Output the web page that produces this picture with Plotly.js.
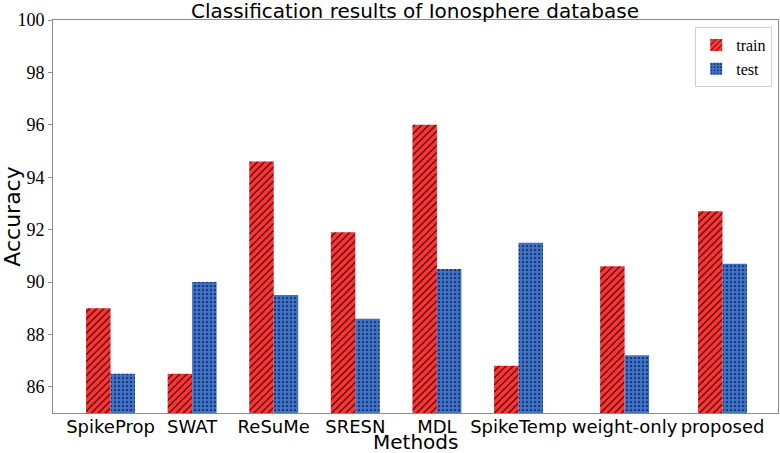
<!DOCTYPE html>
<html>
<head>
<meta charset="utf-8">
<script src="https://cdn.plot.ly/plotly-3.0.1.min.js"></script>
<style>
  html, body {margin: 0; padding: 0; background: #fff;}
  #chart {width: 780px; height: 453px;}
</style>
</head>
<body>
<div id="chart"></div>
<script>
// methods and where each pair of bars sits on the x axis (spacing is uneven in the figure)
var methods = ['SpikeProp', 'SWAT', 'ReSuMe', 'SRESN', 'MDL', 'SpikeTemp', 'weight-only', 'proposed'];
var methodPos = [0, 1, 2, 3, 4, 5, 6.3, 7.5];

var trainAcc = [89.0, 86.5, 94.6, 91.9, 96.0, 86.8, 90.6, 92.7];
var testAcc  = [86.5, 90.0, 89.5, 88.6, 90.5, 91.5, 87.2, 90.7];

var yTicks = [86, 88, 90, 92, 94, 96, 98, 100];

var data = [
  {
    name: 'train',
    x: methodPos,
    y: trainAcc,
    type: 'bar',
    width: 0.3,
    offset: -0.3,                       // left half of the pair
    marker: {
      color: '#ff3333',                 // red, like 'r' with alpha
      line: {width: 0},
      pattern: {shape: '/', fgcolor: '#000', bgcolor: '#ff3333', size: 5, solidity: 0.2}
    }
  },
  {
    name: 'test',
    x: methodPos,
    y: testAcc,
    type: 'bar',
    width: 0.3,
    offset: 0,                          // right half
    marker: {
      color: '#3d70c8',
      line: {width: 0},
      pattern: {shape: '.', fgcolor: '#000', bgcolor: '#3d70c8', size: 4, solidity: 0.14}
    }
  }
];

var layout = {
  width: 780,
  height: 453,
  margin: {l: 53, r: 2, t: 20, b: 40, pad: 0},
  paper_bgcolor: '#fff',
  plot_bgcolor: '#fff',
  barmode: 'overlay',
  title: {
    text: 'Classification results of Ionosphere database',
    font: {family: 'DejaVu Sans', size: 20, color: '#000'},
    x: 0.532, xanchor: 'center',
    yref: 'container', y: 0.976, yanchor: 'middle'
  },
  xaxis: {
    range: [-0.705, 8.18],
    tickvals: methodPos,
    ticktext: methods,
    tickfont: {family: 'DejaVu Sans', size: 18, color: '#000'},
    ticks: '',
    ticklabelstandoff: -3,
    showgrid: false,
    zeroline: false,
    showline: true, mirror: true,
    linecolor: '#8c8c8c', linewidth: 1
  },
  yaxis: {
    range: [85, 100],
    tickvals: yTicks,
    tickfont: {family: 'Liberation Serif', size: 18, color: '#000'},
    ticks: 'outside', ticklen: 4, tickcolor: '#8c8c8c',
    showgrid: false,
    zeroline: false,
    showline: true, mirror: true,
    linecolor: '#8c8c8c', linewidth: 1,
    title: {text: 'Accuracy', font: {family: 'DejaVu Sans', size: 22, color: '#000'}, standoff: 8}
  },
  annotations: [{
    // x axis title sits lower than plotly puts it, so place it by hand
    text: 'Methods',
    xref: 'paper', yref: 'paper',
    x: 0.5, y: -0.075,
    xanchor: 'center', yanchor: 'middle',
    showarrow: false,
    font: {family: 'DejaVu Sans', size: 20, color: '#000'}
  }],
  showlegend: true,
  legend: {
    x: 0.992, xanchor: 'right',
    y: 0.982, yanchor: 'top',
    bgcolor: '#fff',
    bordercolor: '#d0d0d0', borderwidth: 1,
    font: {family: 'Liberation Serif', size: 16, color: '#000'},
    itemwidth: 30
  }
};

var options = {staticPlot: true};

Plotly.newPlot('chart', data, layout, options);
</script>
</body>
</html>
